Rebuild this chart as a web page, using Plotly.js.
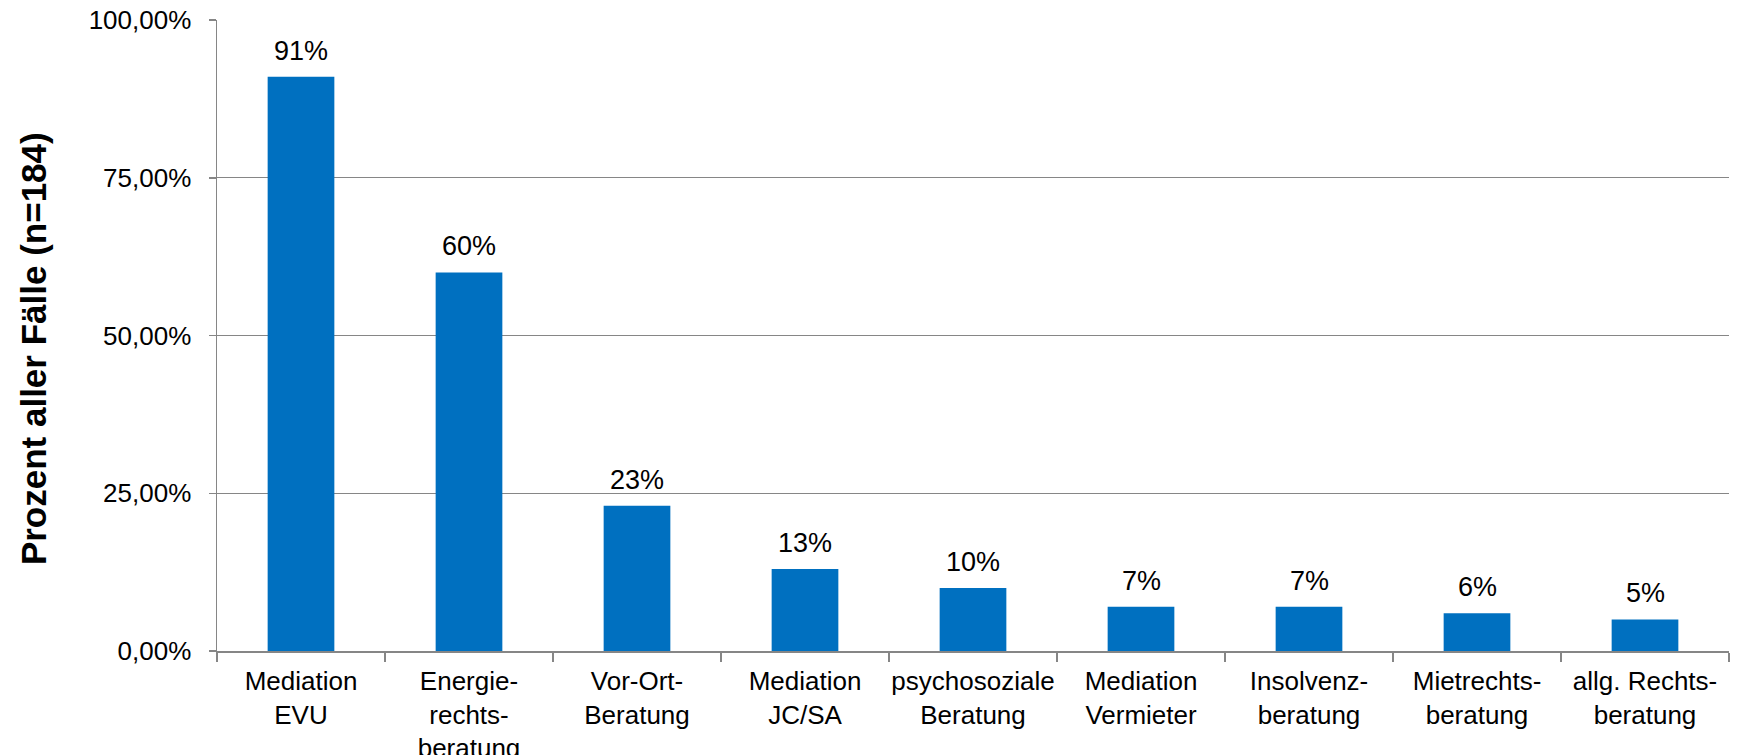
<!DOCTYPE html>
<html>
<head>
<meta charset="utf-8">
<script src="https://cdn.plot.ly/plotly-3.0.1.min.js"></script>
<style>
  html, body { margin: 0; padding: 0; background: #ffffff; }
  #chart { width: 1737px; height: 755px; }
</style>
</head>
<body>
<div id="chart"></div>
<script>
const categories = [
  "Mediation<br>EVU",
  "Energie-<br>rechts-<br>beratung",
  "Vor-Ort-<br>Beratung",
  "Mediation<br>JC/SA",
  "psychosoziale<br>Beratung",
  "Mediation<br>Vermieter",
  "Insolvenz-<br>beratung",
  "Mietrechts-<br>beratung",
  "allg. Rechts-<br>beratung"
];
const percentValues = [91, 60, 23, 13, 10, 7, 7, 6, 5];
const yTickValues = [0, 25, 50, 75, 100];
const yTickLabels = ["0,00%", "25,00%", "50,00%", "75,00%", "100,00%"];
const yAxisTitle = "Prozent aller Fälle (n=184)";

const FONT = "Liberation Sans, Arial, sans-serif";

const trace = {
  type: "bar",
  x: categories,
  y: percentValues,
  marker: { color: "#0070C0", line: { width: 0 } },
  hoverinfo: "skip"
};

const labelAnnotations = categories.map((c, i) => ({
  x: c,
  y: percentValues[i],
  xref: "x",
  yref: "y",
  text: percentValues[i] + "%",
  showarrow: false,
  yanchor: "bottom",
  xanchor: "center",
  yshift: 9,
  font: { family: FONT, size: 27, color: "#000000" }
}));

const layout = {
  width: 1737,
  height: 755,
  margin: { l: 217, r: 8, t: 20, b: 104 },
  paper_bgcolor: "#ffffff",
  plot_bgcolor: "#ffffff",
  showlegend: false,
  bargap: 0.603,
  font: { family: FONT, size: 26, color: "#000000" },
  xaxis: {
    type: "category",
    range: [-0.5, categories.length - 0.5],
    tickson: "boundaries",
    tickangle: 0,
    ticks: "outside",
    ticklen: 9,
    tickcolor: "#868686",
    tickwidth: 1.5,
    ticklabelstandoff: 6,
    showgrid: false,
    showline: true,
    linecolor: "#868686",
    linewidth: 1.5,
    tickfont: { family: FONT, size: 26, color: "#000000" },
    fixedrange: true
  },
  yaxis: {
    range: [0, 100],
    tickmode: "array",
    tickvals: yTickValues,
    ticktext: yTickLabels,
    ticks: "outside",
    ticklen: 7,
    tickcolor: "#868686",
    tickwidth: 1.5,
    ticklabelstandoff: 12,
    showgrid: true,
    gridcolor: "#868686",
    gridwidth: 1.2,
    zeroline: false,
    showline: true,
    linecolor: "#868686",
    linewidth: 1.5,
    tickfont: { family: FONT, size: 26, color: "#000000" },
    fixedrange: true
  },
  annotations: labelAnnotations.concat([{
    xref: "paper",
    yref: "paper",
    x: -0.1217,
    y: 0.48,
    xanchor: "center",
    yanchor: "middle",
    textangle: -90,
    showarrow: false,
    text: "<b>" + yAxisTitle + "</b>",
    font: { family: FONT, size: 35, color: "#000000" }
  }])
};

Plotly.newPlot("chart", [trace], layout, { displayModeBar: false, staticPlot: true });
</script>
</body>
</html>
